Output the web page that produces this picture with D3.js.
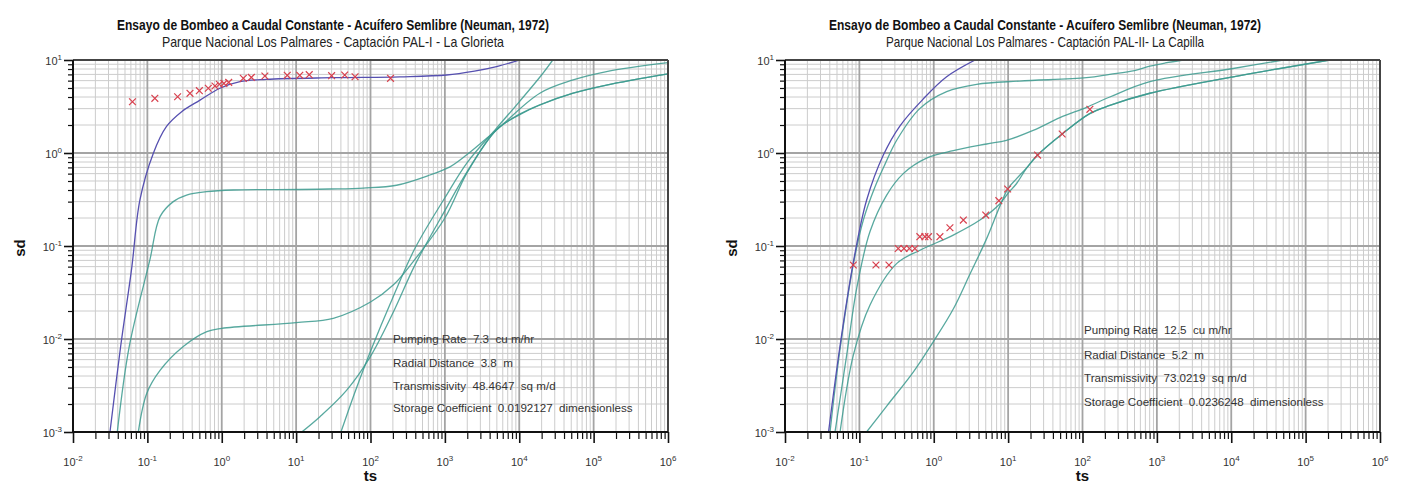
<!DOCTYPE html>
<html><head><meta charset="utf-8">
<script src="https://cdn.jsdelivr.net/npm/d3@7"></script>
<style>
body{margin:0;background:#fff}
svg{display:block}
text{font-family:Arial,"Liberation Sans",sans-serif}
</style>
</head><body>
<svg id="c" width="1404" height="483"></svg>
<script>
// ---------- axis ticks ----------
const xDecades = [-2,-1,0,1,2,3,4,5,6];
const yDecades = [-3,-2,-1,0,1];

// ---------- left chart (PAL-I) ----------
const leftTitle1 = "Ensayo de Bombeo a Caudal Constante - Acuífero Semlibre (Neuman, 1972)";
const leftTitle2 = "Parque Nacional Los Palmares - Captación PAL-I - La Glorieta";
const leftInfo = ["Pumping Rate  7.3  cu m/hr","Radial Distance  3.8  m","Transmissivity  48.4647  sq m/d","Storage Coefficient  0.0192127  dimensionless"];

const leftObsTs = [0.063,0.126,0.255,0.374,0.5,0.66,0.81,0.93,1.07,1.24,1.95,2.5,3.8,7.6,11.2,15,30,45,62,186];
const leftObsSd = [3.56,3.87,4.03,4.38,4.68,4.97,5.25,5.48,5.6,5.75,6.35,6.5,6.73,6.84,6.84,6.95,6.78,6.9,6.6,6.35];

const leftBlueTs = [0.0314,0.0437,0.0615,0.0794,0.12,0.18,0.289,0.51,0.946,1.76,3.98,31.6,248,1055,2500,4950,10200];
const leftBlueSd = [0.001,0.0083,0.0575,0.313,0.99,1.92,2.78,3.7,4.97,5.85,6.2,6.45,6.6,6.9,7.6,8.5,10];

const leftATs = [0.0394,0.057,0.108,0.148,0.223,0.337,0.627,1.43,11.2,28,80,224,630,1170,1950,4950,18900,53000,149000,1e6];
const leftASd = [0.001,0.0083,0.0708,0.207,0.3,0.353,0.384,0.4,0.405,0.41,0.42,0.45,0.58,0.71,0.95,1.77,4.39,6.1,7.5,9.35];

const leftBTs = [0.0755,0.098,0.148,0.304,0.63,1,10,31.6,100,202,375,1000,2000,4950,10000,18900,53100,149000,1e6];
const leftBSd = [0.001,0.0026,0.0046,0.0083,0.012,0.013,0.015,0.0167,0.025,0.038,0.068,0.2,0.62,1.78,2.6,3.3,4.4,5.38,7.1];

const leftCTs = [11.9,20.9,47.6,100,200,398,1000,1995,4950,10000,18900,53100,149000,1e6];
const leftCSd = [0.001,0.00146,0.0028,0.0065,0.019,0.063,0.24,0.63,1.78,2.57,3.28,4.4,5.38,7.1];

const leftDTs = [38.8,63,100,200,398,1000,1995,4950,10000,19950,28200];
const leftDSd = [0.00093,0.0028,0.0074,0.028,0.095,0.33,0.79,1.85,3.55,6.9,10];

// ---------- right chart (PAL-II) ----------
const rightTitle1 = "Ensayo de Bombeo a Caudal Constante - Acuífero Semlibre (Neuman, 1972)";
const rightTitle2 = "Parque Nacional Los Palmares - Captación PAL-II- La Capilla";
const rightInfo = ["Pumping Rate  12.5  cu m/hr","Radial Distance  5.2  m","Transmissivity  73.0219  sq m/d","Storage Coefficient  0.0236248  dimensionless"];

const rightObsTs = [0.0828,0.167,0.25,0.333,0.398,0.47,0.558,0.65,0.76,0.85,1.21,1.65,2.5,5.0,7.5,9.85,24.9,53.3,125.7];
const rightObsSd = [0.0625,0.0625,0.0625,0.094,0.094,0.094,0.094,0.126,0.126,0.126,0.126,0.157,0.19,0.215,0.307,0.41,0.95,1.6,2.95];

const rightBlueTs = [0.0385,0.0548,0.083,0.125,0.21,0.35,0.72,1.49,3.6];
const rightBlueSd = [0.001,0.0083,0.067,0.31,0.95,1.95,3.8,6.6,10];

const rightATs = [0.0403,0.055,0.083,0.113,0.16,0.22,0.319,0.653,1.49,3.77,14.4,113,233,500,805,1300,2260];
const rightASd = [0.001,0.0078,0.064,0.19,0.42,0.75,1.38,3.02,4.57,5.48,5.94,6.45,7.0,7.7,8.6,9.3,10];

const rightBTs = [0.047,0.0675,0.092,0.139,0.233,0.389,0.8,1.83,5.14,9.5,21.7,49.7,113,233,805,10600,49900];
const rightBSd = [0.001,0.0067,0.035,0.143,0.353,0.6,0.88,1.06,1.25,1.37,1.75,2.4,3.1,4.0,5.85,8.1,10];

const rightCTs = [0.055,0.083,0.139,0.319,0.653,1.83,4.18,7.77,10,13,18,24.9,53.3,125,233,805,10600,211000];
const rightCSd = [0.001,0.0067,0.0232,0.065,0.09,0.131,0.19,0.285,0.37,0.47,0.7,0.95,1.6,2.65,3.25,4.39,6.6,10];

const rightDTs = [0.125,0.233,0.53,1.0,1.83,3.07,5.14,7.77,10,13,18,24.9,53.3,125,233,805,10600,211000];
const rightDSd = [0.001,0.0019,0.0044,0.0095,0.021,0.05,0.12,0.27,0.417,0.53,0.7,0.95,1.6,2.65,3.25,4.39,6.6,10];

// ---------- drawing ----------
const svg = d3.select("#c");
const zip = (a,b) => a.map((v,i)=>[v,b[i]]);

function panel(o){
  const x = d3.scaleLog().domain([1e-2,1e6]).range([o.x0,o.x1]);
  const y = d3.scaleLog().domain([1e-3,1e1]).range([o.y1,o.y0]);
  const g = svg.append("g");

  const minorX=[], majorX=[], minorY=[], majorY=[];
  xDecades.forEach(e=>{ majorX.push(Math.pow(10,e)); if(e<6) for(let k=2;k<10;k++) minorX.push(k*Math.pow(10,e)); });
  yDecades.forEach(e=>{ majorY.push(Math.pow(10,e)); if(e<1) for(let k=2;k<10;k++) minorY.push(k*Math.pow(10,e)); });

  // grid
  g.selectAll(null).data(minorX).enter().append("line")
    .attr("x1",d=>x(d)).attr("x2",d=>x(d)).attr("y1",o.y0).attr("y2",o.y1)
    .attr("stroke","#cccccc").attr("stroke-width",1);
  g.selectAll(null).data(minorY).enter().append("line")
    .attr("y1",d=>y(d)).attr("y2",d=>y(d)).attr("x1",o.x0).attr("x2",o.x1)
    .attr("stroke","#cccccc").attr("stroke-width",1);
  g.selectAll(null).data(majorX).enter().append("line")
    .attr("x1",d=>x(d)).attr("x2",d=>x(d)).attr("y1",o.y0).attr("y2",o.y1)
    .attr("stroke","#a4a4a4").attr("stroke-width",1.8);
  g.selectAll(null).data(majorY).enter().append("line")
    .attr("y1",d=>y(d)).attr("y2",d=>y(d)).attr("x1",o.x0).attr("x2",o.x1)
    .attr("stroke","#a4a4a4").attr("stroke-width",1.8);

  // clip
  const cid = "clip"+o.id;
  svg.append("clipPath").attr("id",cid).append("rect")
    .attr("x",o.x0).attr("y",o.y0).attr("width",o.x1-o.x0).attr("height",o.y1-o.y0);
  const cg = g.append("g").attr("clip-path",`url(#${cid})`);

  const line = d3.line().x(d=>x(d[0])).y(d=>y(d[1])).curve(d3.curveCatmullRom.alpha(0.5));
  o.teal.forEach(c=>{
    cg.append("path").attr("d",line(c)).attr("fill","none")
      .attr("stroke","#3b9a8e").attr("stroke-width",1.3).attr("stroke-opacity",0.85);
  });
  cg.append("path").attr("d",line(o.blue)).attr("fill","none")
    .attr("stroke","#5650b0").attr("stroke-width",1.3);

  // markers
  const s=3.4;
  const mk = cg.selectAll(null).data(o.obs).enter().append("g")
    .attr("transform",d=>`translate(${x(d[0])},${y(d[1])})`);
  mk.append("path").attr("d",`M${-s},${-s}L${s},${s}M${-s},${s}L${s},${-s}`)
    .attr("stroke","#d8404e").attr("stroke-width",1.2).attr("fill","none");

  // info text
  o.info.forEach((t,i)=>{
    g.append("text").attr("x",o.infoX).attr("y",o.infoY[i]).attr("font-size","11.6px")
      .attr("fill","#333").style("white-space","pre").attr("xml:space","preserve").text(t);
  });

  // frame
  g.append("line").attr("x1",o.x0).attr("x2",o.x1).attr("y1",o.y0).attr("y2",o.y0).attr("stroke","#444").attr("stroke-width",2);
  g.append("line").attr("x1",o.x1).attr("x2",o.x1).attr("y1",o.y0).attr("y2",o.y1).attr("stroke","#444").attr("stroke-width",2);

  // axes ticks
  g.append("g").attr("transform",`translate(0,${o.y1})`)
    .call(d3.axisBottom(x).tickValues(minorX).tickSize(7).tickFormat(""))
    .call(a=>{a.select(".domain").remove(); a.selectAll("line").attr("stroke","#111").attr("stroke-width",1.2);});
  g.append("g").attr("transform",`translate(0,${o.y1})`)
    .call(d3.axisBottom(x).tickValues(majorX).tickSize(11).tickFormat(""))
    .call(a=>{a.select(".domain").remove(); a.selectAll("line").attr("stroke","#111").attr("stroke-width",1.6);});
  g.append("g").attr("transform",`translate(${o.x0},0)`)
    .call(d3.axisLeft(y).tickValues(minorY).tickSize(5).tickFormat(""))
    .call(a=>{a.select(".domain").remove(); a.selectAll("line").attr("stroke","#111").attr("stroke-width",1.2);});
  g.append("g").attr("transform",`translate(${o.x0},0)`)
    .call(d3.axisLeft(y).tickValues(majorY).tickSize(9).tickFormat(""))
    .call(a=>{a.select(".domain").remove(); a.selectAll("line").attr("stroke","#111").attr("stroke-width",1.6);});
  g.append("line").attr("x1",o.x0).attr("x2",o.x1).attr("y1",o.y1).attr("y2",o.y1).attr("stroke","#111").attr("stroke-width",2);
  g.append("line").attr("x1",o.x0).attr("x2",o.x0).attr("y1",o.y0).attr("y2",o.y1).attr("stroke","#111").attr("stroke-width",2);

  // tick labels
  xDecades.forEach(e=>{
    const t=g.append("text").attr("x",x(Math.pow(10,e))).attr("y",o.y1+34).attr("text-anchor","middle")
      .attr("font-size","11px").attr("fill","#333");
    t.append("tspan").text("10");
    t.append("tspan").attr("dy",-5).attr("font-size","8px").text(String(e));
  });
  yDecades.forEach(e=>{
    const t=g.append("text").attr("x",o.x0-11).attr("y",y(Math.pow(10,e))+5).attr("text-anchor","end")
      .attr("font-size","11px").attr("fill","#333");
    t.append("tspan").text("10");
    t.append("tspan").attr("dy",-5).attr("font-size","8px").text(String(e));
  });

  // axis titles
  g.append("text").attr("x",(o.x0+o.x1)/2).attr("y",481).attr("text-anchor","middle")
    .attr("font-size","15px").attr("font-weight","bold").attr("fill","#111").text("ts");
  g.append("text").attr("transform",`translate(${o.x0-48},${(o.y0+o.y1)/2+2}) rotate(-90)`)
    .attr("text-anchor","middle").attr("font-size","15px").attr("font-weight","bold").attr("fill","#111").text("sd");

  // titles
  g.append("text").attr("x",o.titleX).attr("y",30).attr("text-anchor","middle")
    .attr("font-size","15px").attr("font-weight","bold").attr("fill","#111")
    .attr("textLength",o.t1w).attr("lengthAdjust","spacingAndGlyphs").text(o.title1);
  g.append("text").attr("x",o.titleX).attr("y",46.5).attr("text-anchor","middle")
    .attr("font-size","14.5px").attr("fill","#222")
    .attr("textLength",o.t2w).attr("lengthAdjust","spacingAndGlyphs").text(o.title2);
}

panel({id:"L",x0:73,x1:668,y0:60,y1:432,titleX:333,t1w:432,t2w:342,
  title1:leftTitle1,title2:leftTitle2,info:leftInfo,infoX:393,infoY:[342.5,366.5,389.5,412],
  obs:zip(leftObsTs,leftObsSd), blue:zip(leftBlueTs,leftBlueSd),
  teal:[zip(leftATs,leftASd),zip(leftBTs,leftBSd),zip(leftCTs,leftCSd),zip(leftDTs,leftDSd)]});
panel({id:"R",x0:785,x1:1380,y0:60,y1:432,titleX:1045,t1w:432,t2w:318,
  title1:rightTitle1,title2:rightTitle2,info:rightInfo,infoX:1084,infoY:[334,359,382,405.5],
  obs:zip(rightObsTs,rightObsSd), blue:zip(rightBlueTs,rightBlueSd),
  teal:[zip(rightATs,rightASd),zip(rightBTs,rightBSd),zip(rightCTs,rightCSd),zip(rightDTs,rightDSd)]});
</script>
</body></html>
